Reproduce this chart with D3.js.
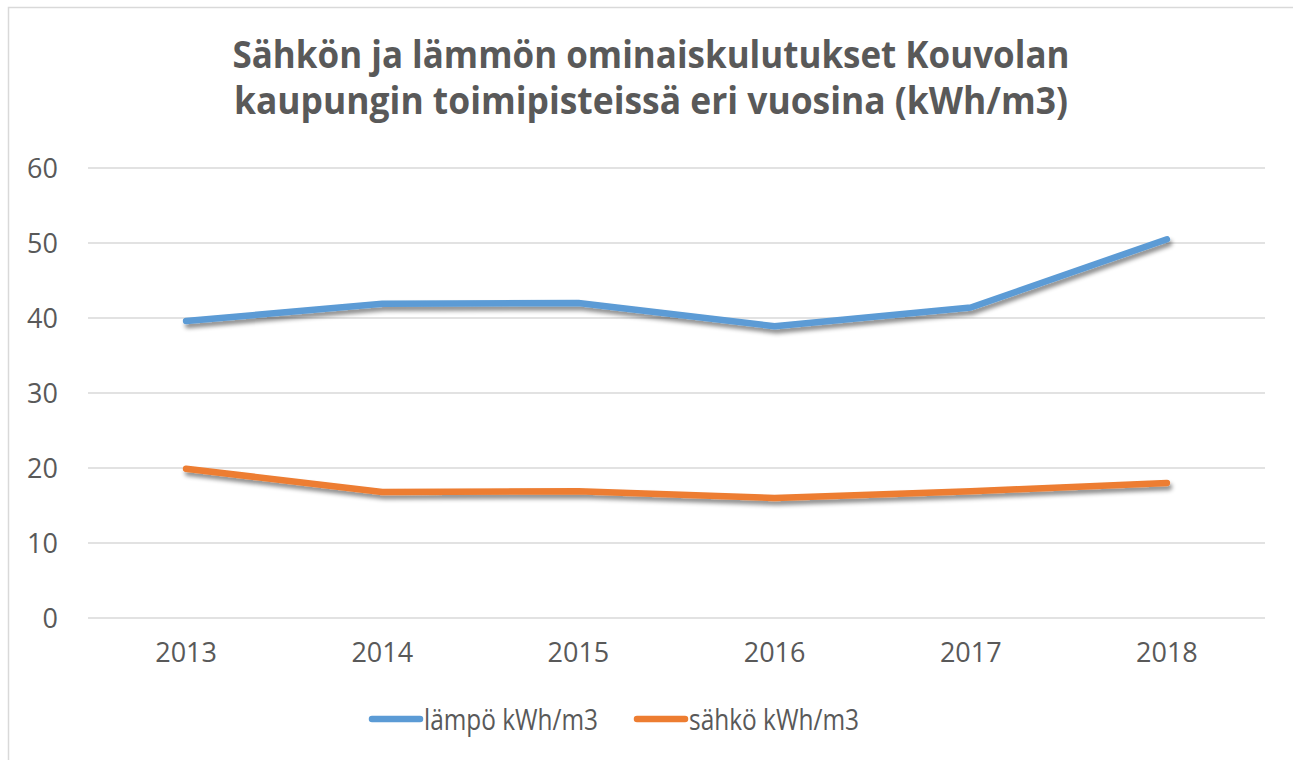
<!DOCTYPE html>
<html>
<head>
<meta charset="utf-8">
<script src="https://cdn.jsdelivr.net/npm/d3@7"></script>
<style>
  html, body { margin: 0; padding: 0; background: #fff; }
  svg { display: block; }
  text { font-family: "Open Sans", "Noto Sans", sans-serif; fill: #595959; }
</style>
</head>
<body>
<div id="chart"></div>
<script>
// years on the x axis
const years = ["2013", "2014", "2015", "2016", "2017", "2018"];
// heat consumption kWh/m3
const lampo = [39.6, 41.9, 42.0, 38.9, 41.4, 50.5];
// electricity consumption kWh/m3
const sahko = [19.9, 16.8, 16.9, 16.0, 16.9, 18.0];
const yTicks = [0, 10, 20, 30, 40, 50, 60];
const titleLines = ["Sähkön ja lämmön ominaiskulutukset Kouvolan",
                    "kaupungin toimipisteissä eri vuosina (kWh/m3)"];
const seriesNames = ["lämpö kWh/m3", "sähkö kWh/m3"];
const colors = ["#5B9BD5", "#ED7D31"];

const W = 1293, H = 760;
const margin = {left: 88, right: 28, top: 168, bottom: 142};

let svg = d3.select("#chart").append("svg")
    .attr("width", W).attr("height", H);

// drop shadow like the office chart
let defs = svg.append("defs");
let f = defs.append("filter").attr("id", "shadow")
    .attr("x", "-10%").attr("y", "-50%").attr("width", "120%").attr("height", "200%");
f.append("feDropShadow")
    .attr("dx", 2).attr("dy", 4).attr("stdDeviation", 2)
    .attr("flood-color", "#000").attr("flood-opacity", 0.45);

// outer border
svg.append("rect")
    .attr("x", 8.5).attr("y", 7.5)
    .attr("width", W).attr("height", H)
    .attr("fill", "none").attr("stroke", "#d9d9d9").attr("stroke-width", 1.5);

let x = d3.scaleBand().domain(years).range([margin.left, W - margin.right]);
let y = d3.scaleLinear().domain([0, 60]).range([H - margin.bottom, margin.top]);

// title, two lines in one text element
let title = svg.append("text")
    .attr("class", "title")
    .attr("text-anchor", "middle")
    .attr("font-size", 37)
    .attr("font-weight", "bold");
title.selectAll("tspan")
    .data(titleLines)
    .enter()
    .append("tspan")
    .attr("x", 651)
    .attr("y", (d, i) => 68 + i * 46)
    .attr("textLength", (d, i) => i === 0 ? 837 : 834)
    .attr("lengthAdjust", "spacingAndGlyphs")
    .text(d => d);

// gridlines
svg.append("g")
    .selectAll("line")
    .data(yTicks)
    .enter()
    .append("line")
    .attr("x1", margin.left).attr("x2", W - margin.right)
    .attr("y1", d => y(d)).attr("y2", d => y(d))
    .attr("stroke", "#d9d9d9").attr("stroke-width", 1.5);

// y axis labels
let yAxis = svg.append("g")
    .attr("transform", `translate(${margin.left - 30},0)`)
    .call(d3.axisLeft(y).tickValues(yTicks).tickSize(0).tickPadding(0));
yAxis.select(".domain").remove();
yAxis.selectAll("text")
    .attr("font-size", 27)
    .attr("fill", "#595959")
    .attr("font-family", "\"Open Sans\", sans-serif")
    .attr("dy", "0.36em");

// x axis labels
let xAxis = svg.append("g")
    .attr("transform", `translate(0,${y(0)})`)
    .call(d3.axisBottom(x).tickSize(0).tickPadding(25));
xAxis.select(".domain").remove();
xAxis.selectAll("text")
    .attr("font-size", 27)
    .attr("fill", "#595959")
    .attr("font-family", "\"Open Sans\", sans-serif");

// lines
let line = d3.line()
    .x((d, i) => x(years[i]) + x.bandwidth() / 2)
    .y(d => y(d));

[lampo, sahko].forEach((s, k) => {
    svg.append("path")
        .datum(s)
        .attr("d", line)
        .attr("fill", "none")
        .attr("stroke", colors[k])
        .attr("stroke-width", 6.5)
        .attr("stroke-linecap", "round")
        .attr("stroke-linejoin", "round")
        .attr("filter", "url(#shadow)");
});

// legend
let legendX = [372, 637];
let legend = svg.append("g")
    .selectAll("g")
    .data(seriesNames)
    .enter()
    .append("g")
    .attr("transform", (d, i) => `translate(${legendX[i]},719)`);
legend.append("line")
    .attr("x1", 0).attr("x2", 48)
    .attr("stroke", (d, i) => colors[i])
    .attr("stroke-width", 6.5)
    .attr("stroke-linecap", "round");
legend.append("text")
    .attr("x", 52)
    .attr("y", 11)
    .attr("font-size", 29)
    .attr("textLength", (d, i) => i === 0 ? 174 : 170)
    .attr("lengthAdjust", "spacingAndGlyphs")
    .text(d => d);
</script>
</body>
</html>
